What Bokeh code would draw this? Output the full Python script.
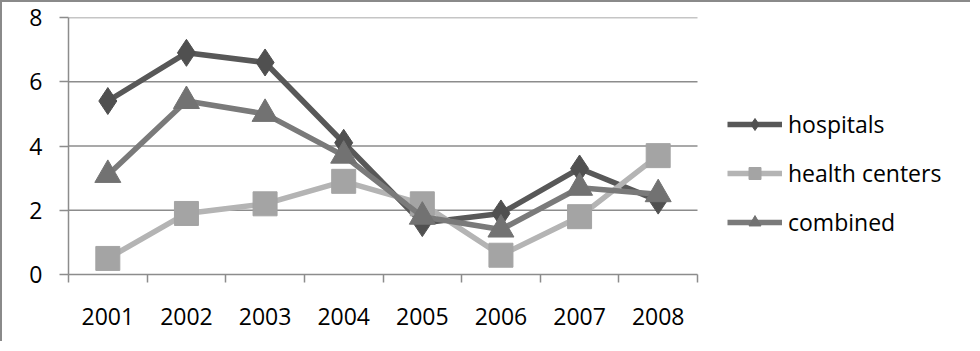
from bokeh.plotting import figure
from bokeh.models import FixedTicker, Legend, LegendItem, Range1d
from bokeh.embed import file_html
from bokeh.resources import INLINE

years = ["2001", "2002", "2003", "2004", "2005", "2006", "2007", "2008"]
hospitals = [5.4, 6.9, 6.6, 4.1, 1.6, 1.9, 3.3, 2.3]
health_centers = [0.5, 1.9, 2.2, 2.9, 2.2, 0.6, 1.8, 3.7]
combined = [3.1, 5.4, 5.0, 3.7, 1.8, 1.4, 2.7, 2.5]
y_ticks = [0, 2, 4, 6, 8]

FONT = "Open Sans"
n = len(years)
xs = [i + 0.5 for i in range(n)]
bounds = list(range(n + 1))

W, H = 970, 341
LEFT = 66
PLOT_PX = 629  # pixel width of the data area (8 categories)
x_end = n * (W - LEFT) / PLOT_PX

p = figure(width=W, height=H, output_backend="svg", toolbar_location=None,
           x_range=Range1d(0, x_end), y_range=Range1d(0, 8),
           min_border_left=LEFT, min_border_right=0, min_border_top=15, min_border_bottom=69)
p.styles = {"border-top": "2px solid #8a8a8a", "border-left": "2px solid #8a8a8a"}
p.outline_line_color = None
p.background_fill_color = "white"
p.border_fill_color = "white"

p.xgrid.grid_line_color = None
p.ygrid.grid_line_color = None
p.segment(x0=[0] * len(y_ticks[1:]), x1=[n] * len(y_ticks[1:]), y0=y_ticks[1:], y1=y_ticks[1:],
          line_color="#8c8c8c", line_width=1.5)

p.yaxis.ticker = FixedTicker(ticks=y_ticks)
p.xaxis.ticker = FixedTicker(ticks=xs, minor_ticks=bounds)
p.xaxis.bounds = (0, n)
p.xaxis.major_label_overrides = {x: y for x, y in zip(xs, years)}
for ax in (p.xaxis, p.yaxis):
    ax.axis_line_color = "#8c8c8c"
    ax.axis_line_width = 1.5
    ax.major_tick_line_color = "#8c8c8c"
    ax.minor_tick_line_color = "#8c8c8c"
    ax.major_tick_line_width = 1.5
    ax.minor_tick_line_width = 1.5
    ax.major_label_text_font = FONT
    ax.major_label_text_font_size = "23px"
    ax.major_label_text_color = "black"
p.yaxis.major_tick_out = 9
p.yaxis.major_tick_in = 0
p.yaxis.minor_tick_line_color = None
p.yaxis.major_label_standoff = 17
p.xaxis.major_tick_out = 0
p.xaxis.major_tick_in = 0
p.xaxis.minor_tick_out = 8
p.xaxis.minor_tick_in = 0
p.xaxis.major_label_standoff = 25

series = [
    ("hospitals", hospitals, "#585858", "#505050", "diamond", 27),
    ("health centers", health_centers, "#b4b4b4", "#a4a4a4", "square", 24),
    ("combined", combined, "#7a7a7a", "#727272", "triangle", 26),
]
items = []
for name, vals, lc, mc, marker, size in series:
    l = p.line(xs, vals, line_color=lc, line_width=5.5)
    m = p.scatter(xs, vals, marker=marker, size=size, fill_color=mc, line_color=mc)
    items.append(LegendItem(label=name, renderers=[l, m]))

legend = Legend(items=items, location=(659, 36), glyph_width=55, glyph_height=30,
                label_height=30, spacing=17, label_standoff=6,
                label_text_font=FONT, label_text_font_size="23px", label_text_color="black",
                border_line_color=None, background_fill_alpha=0)
p.add_layout(legend, "center")

open("out.html", "w").write(file_html(p, INLINE))
